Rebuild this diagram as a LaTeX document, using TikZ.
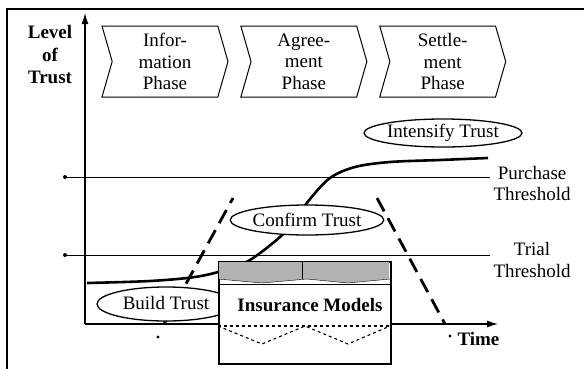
\documentclass[tikz,border=0pt]{standalone}
\usepackage{fontspec}
\setmainfont{Liberation Serif}
\usetikzlibrary{positioning, shapes, arrows, arrows.meta}

\begin{document}
\begin{tikzpicture}[x=1pt, y=-1pt, font=\fontsize{19}{21.5}\selectfont,
    phase/.style={signal, signal from=west, signal to=east, draw, line width=1pt, minimum width=126pt, minimum height=71pt, signal pointer angle=148, align=center, inner sep=0pt},
    stage/.style={ellipse, draw, line width=1.3pt, fill=white, inner sep=0pt},
    trust/.style={line width=2.6pt},
    limit/.style={line width=2.8pt, dash pattern=on 15pt off 8pt},
    axis/.style={line width=1.3pt, -{Latex[length=11pt, width=7pt]}}]
\useasboundingbox (0,0) rectangle (584,368);
\draw[line width=1.5pt] (7,9) rectangle (592,376);

% axes
\coordinate (origin) at (85,324);
\coordinate (ytop) at (85,13);
\coordinate (xend) at (498,324);
\draw[axis] (origin) -- (ytop);
\draw[axis] (origin) -- (xend);
\node[font=\fontsize{19}{22.5}\selectfont\bfseries, align=center] (level) at (50,55) {Level\\of\\Trust};
\node[font=\fontsize{19}{21}\selectfont\bfseries, anchor=west] (time) at (454,339) {Time};
\fill (450,336) circle (1.6pt) coordinate (tend);
\fill (158,337) circle (1.6pt) coordinate (tstart);

% phases
\node[phase] (info) at (165,61.5) {Infor-\\mation\\Phase};
\node[phase, right=22pt of info] (agree) {Agree-\\ment\\Phase};
\node[phase, right=22pt of agree] (settle) {Settle-\\ment\\Phase};

% thresholds
\fill (65,177) circle (2pt) coordinate (pstart);
\fill (65,255) circle (2pt) coordinate (tlstart);
\coordinate (pend) at (490,177);
\coordinate (tlend) at (490,255);
\draw[line width=0.8pt] (pstart) -- (pend);
\draw[line width=0.8pt] (tlstart) -- (tlend);
\node[align=center, anchor=west] (purchase) at (490,183.5) {Purchase\\Threshold};
\node[align=center, anchor=west] (trial) at (490,260) {Trial\\Threshold};

% trust curve
\draw[trust] plot[smooth, tension=0.55] coordinates {(87,283) (150,281) (195,277) (225,270) (250,260) (280,237) (295,220) (310,199) (330,178) (355,167) (390,162) (440,160) (488,158)};

% contract window
\coordinate (lbase) at (164,324);
\coordinate (ltop) at (233,198);
\coordinate (rtop) at (377,198);
\coordinate (rbase) at (445,324);
\draw[limit] (lbase) -- (ltop);
\draw[limit] (rtop) -- (rbase);

\node[stage, minimum width=138pt, minimum height=34pt] (build) at (166,304) {};
\node (buildtxt) at (166,303) {Build Trust};

% insurance box
\node[draw, line width=1.5pt, fill=white, minimum width=172pt, minimum height=102pt, anchor=north west, inner sep=0pt] (ins) at (218,261) {};
\fill[black!30] (219,262) -- (389,262) -- (389,279) -- (348,283) -- (307,279) -- (262,283) -- (219,279) -- cycle;
\draw (ins.north west) ++(0,18) -- ++(44,4) -- ++(45,-4) -- ++(41,4) -- ++(42,-4);
\draw (ins.north) ++(-3,0) -- ++(0,18);
\draw[line width=0.8pt] (218,284) -- (390,284);
\draw[dashed, line width=1.1pt] (218,326) -- (390,326);
\draw[dashed, line width=1.1pt] (218,326) -- (262,344) -- (305,326) -- (348,344) -- (390,326);
\node[font=\fontsize{19}{21}\selectfont\bfseries] (insname) at (310,305) {Insurance Models};

% trust stages
\node[stage, minimum width=140pt, minimum height=30pt] (confirm) at (307,220) {Confirm Trust};
\node[stage, minimum width=133pt, minimum height=28pt] (intensify) at (443,133) {Intensify Trust};
\end{tikzpicture}
\end{document}
